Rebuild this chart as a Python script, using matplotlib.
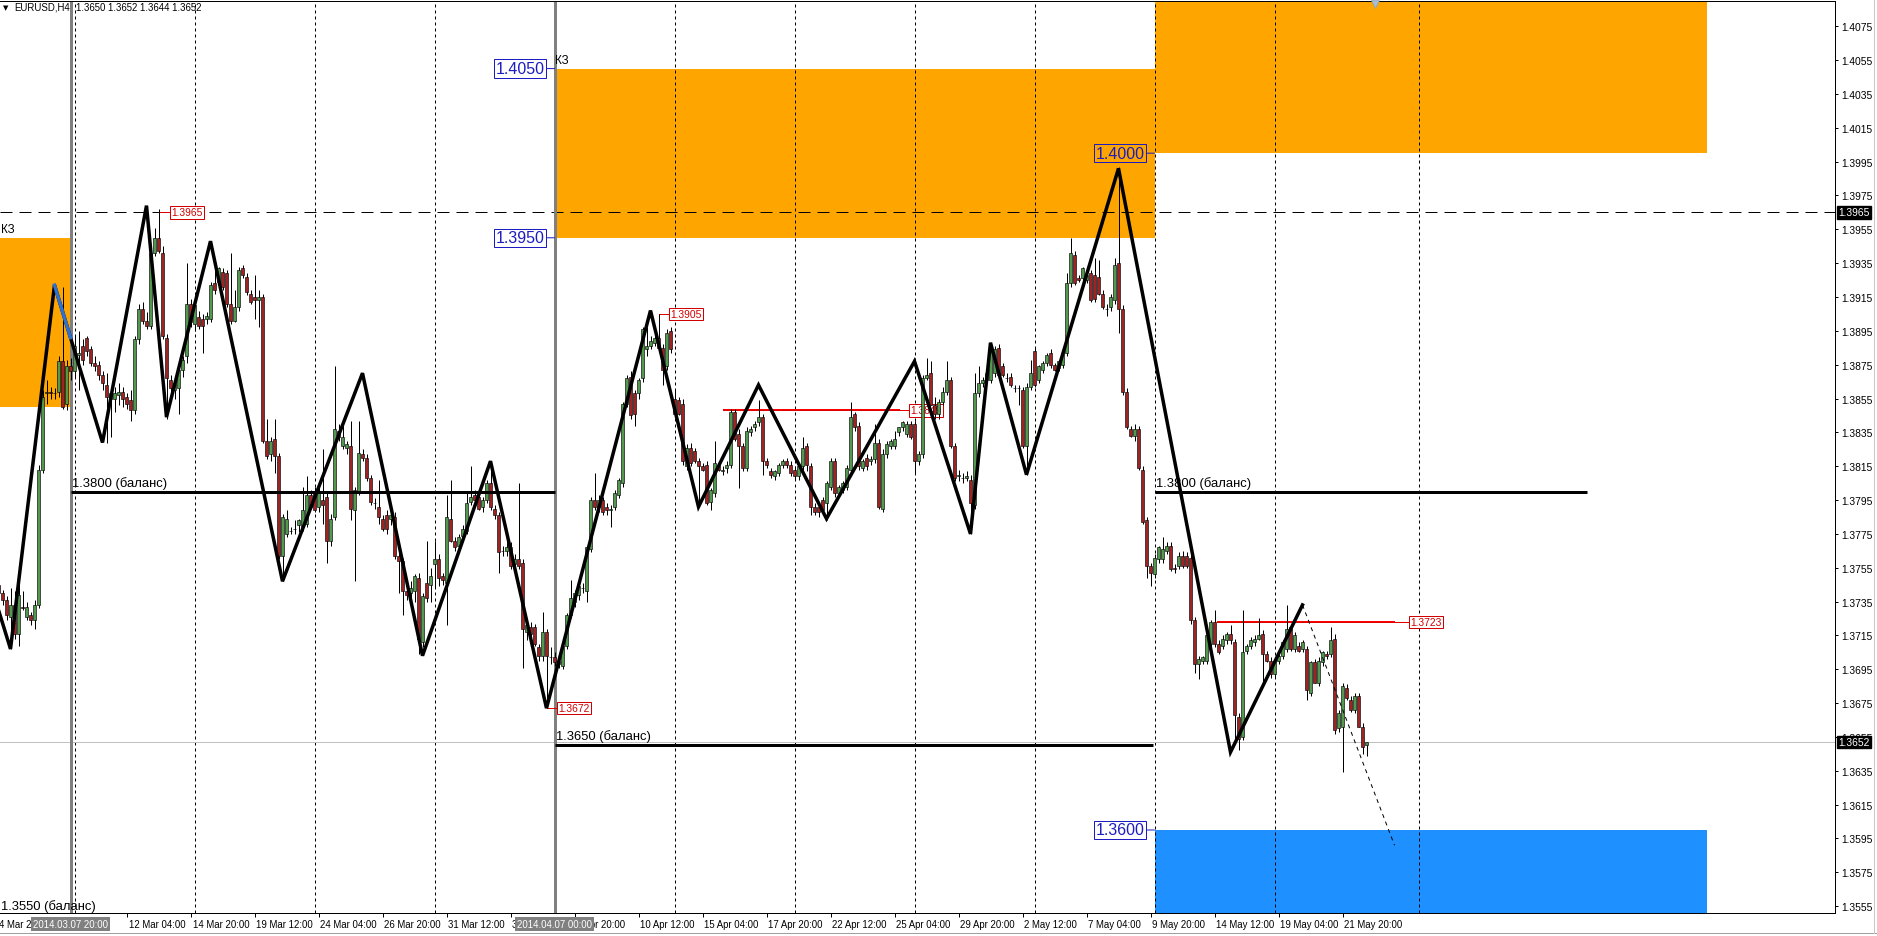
import numpy as np
import matplotlib
matplotlib.use("Agg")
import matplotlib.pyplot as plt
from matplotlib import transforms
from matplotlib.lines import Line2D
from matplotlib.patches import Rectangle

plt.rcParams["font.family"] = ["Liberation Sans", "DejaVu Sans"]
plt.rcParams["lines.scale_dashes"] = False

W, H, DPI = 1877, 937, 100
PX = 72 / DPI  # one screen pixel in points

# EURUSD H4, quotes kept in points (3745 -> 1.3745)
# bar index 0 = Mon 17 Mar 2014 00:00, first visible bar = 4 Mar 20:00
BASE = 1.0
FIRST_BAR = -49

opens = [
    3745, 3740, 3736, 3726, 3733, 3716, 3732, 3726, 3727, 3724, 3733, 3813, 3858, 3859, 3858, 3859, 3877, 3852, 3874, 3871,
    3881, 3886, 3891, 3884, 3876, 3875, 3869, 3863, 3855, 3855, 3857, 3859, 3856, 3854, 3848, 3890, 3908, 3901, 3898, 3941,
    3950, 3941, 3891, 3866, 3860, 3861, 3872, 3880, 3911, 3899, 3903, 3902, 3902, 3902, 3923, 3924, 3930, 3929, 3911, 3901,
    3909, 3932, 3927, 3917, 3915, 3913, 3915, 3830, 3822, 3831, 3821, 3762, 3775, 3777, 3778, 3780, 3779, 3781, 3798, 3799,
    3791, 3795, 3797, 3771, 3785, 3836, 3827, 3826, 3827, 3789, 3800, 3822, 3820, 3808, 3793, 3791, 3784, 3786, 3784, 3785,
    3762, 3759, 3741, 3740, 3741, 3749, 3711, 3746, 3745, 3757, 3760, 3750, 3746, 3784, 3771, 3768, 3774, 3777, 3794, 3798,
    3797, 3791, 3795, 3805, 3790, 3786, 3765, 3765, 3767, 3757, 3760, 3758, 3717, 3720, 3720, 3708, 3703, 3717, 3702, 3702,
    3700, 3697, 3709, 3727, 3735, 3739, 3743, 3741, 3766, 3795, 3791, 3795, 3791, 3789, 3791, 3798, 3805, 3852, 3868, 3858,
    3858, 3867, 3884, 3886, 3888, 3891, 3885, 3874, 3895, 3855, 3854, 3852, 3815, 3826, 3824, 3818, 3815, 3816, 3794, 3799,
    3816, 3812, 3814, 3816, 3847, 3834, 3827, 3814, 3835, 3838, 3841, 3844, 3818, 3812, 3809, 3811, 3816, 3818, 3816, 3813,
    3809, 3815, 3827, 3815, 3791, 3791, 3795, 3793, 3803, 3818, 3799, 3801, 3803, 3813, 3846, 3839, 3814, 3820, 3818, 3819,
    3829, 3790, 3822, 3827, 3827, 3835, 3838, 3834, 3840, 3840, 3818, 3822, 3867, 3870, 3851, 3846, 3853, 3859, 3866, 3827,
    3809, 3808, 3808, 3807, 3792, 3858, 3864, 3866, 3866, 3870, 3885, 3874, 3867, 3868, 3861, 3861, 3860, 3827, 3862, 3883,
    3866, 3872, 3876, 3882, 3875, 3873, 3875, 3882, 3923, 3940, 3926, 3926, 3925, 3929, 3928, 3927, 3917, 3908, 3909, 3913,
    3935, 3908, 3859, 3837, 3833, 3837, 3813, 3783, 3756, 3751, 3760, 3760, 3765, 3768, 3755, 3756, 3762, 3762, 3761, 3724,
    3698, 3700, 3700, 3710, 3723, 3710, 3709, 3712, 3716, 3711, 3667, 3655, 3706, 3709, 3711, 3713, 3716, 3704, 3700, 3692,
    3700, 3703, 3707, 3720, 3707, 3709, 3707, 3707, 3681, 3699, 3687, 3699, 3704, 3704, 3713, 3660, 3661, 3684, 3677, 3671,
    3679, 3661, 3650,
]
highs = [
    3748, 3742, 3738, 3743, 3741, 3747, 3741, 3735, 3729, 3736, 3816, 3860, 3866, 3862, 3861, 3880, 3921, 3878, 3879, 3892,
    3895, 3890, 3892, 3886, 3880, 3877, 3871, 3870, 3860, 3862, 3864, 3862, 3858, 3860, 3892, 3911, 3912, 3906, 3943, 3956,
    3967, 3945, 3893, 3869, 3866, 3874, 3880, 3935, 3914, 3913, 3907, 3905, 3906, 3924, 3934, 3933, 3932, 3931, 3941, 3919,
    3933, 3934, 3929, 3919, 3928, 3919, 3917, 3843, 3832, 3843, 3823, 3787, 3789, 3779, 3783, 3784, 3803, 3809, 3801, 3803,
    3803, 3825, 3799, 3787, 3874, 3840, 3840, 3830, 3842, 3803, 3842, 3825, 3822, 3810, 3796, 3807, 3786, 3789, 3790, 3788,
    3764, 3761, 3744, 3747, 3751, 3752, 3740, 3771, 3755, 3771, 3763, 3752, 3798, 3807, 3773, 3775, 3780, 3799, 3815, 3801,
    3799, 3797, 3807, 3818, 3792, 3788, 3768, 3771, 3770, 3763, 3805, 3760, 3724, 3723, 3722, 3710, 3729, 3719, 3708, 3705,
    3703, 3711, 3728, 3748, 3742, 3746, 3746, 3768, 3797, 3811, 3798, 3797, 3793, 3792, 3801, 3808, 3853, 3869, 3871, 3860,
    3867, 3897, 3897, 3892, 3893, 3905, 3887, 3896, 3897, 3860, 3856, 3855, 3828, 3829, 3826, 3820, 3817, 3818, 3802, 3830,
    3818, 3815, 3818, 3849, 3849, 3837, 3829, 3838, 3839, 3842, 3854, 3846, 3820, 3814, 3813, 3817, 3819, 3820, 3818, 3815,
    3816, 3832, 3829, 3817, 3793, 3793, 3797, 3806, 3820, 3820, 3804, 3806, 3816, 3853, 3847, 3841, 3819, 3822, 3821, 3840,
    3831, 3825, 3830, 3831, 3836, 3838, 3842, 3842, 3842, 3842, 3824, 3869, 3879, 3877, 3856, 3855, 3862, 3877, 3868, 3829,
    3813, 3811, 3812, 3810, 3870, 3874, 3868, 3875, 3887, 3886, 3887, 3876, 3870, 3870, 3863, 3863, 3862, 3864, 3878, 3885,
    3875, 3877, 3882, 3884, 3876, 3878, 3884, 3929, 3950, 3942, 3928, 3933, 3930, 3931, 3938, 3937, 3919, 3911, 3917, 3938,
    3992, 3910, 3861, 3839, 3840, 3839, 3815, 3785, 3758, 3763, 3768, 3773, 3770, 3770, 3757, 3764, 3765, 3764, 3763, 3726,
    3703, 3703, 3716, 3724, 3730, 3712, 3715, 3717, 3721, 3713, 3669, 3730, 3710, 3714, 3715, 3725, 3718, 3706, 3702, 3702,
    3704, 3712, 3733, 3722, 3717, 3711, 3712, 3709, 3700, 3701, 3702, 3706, 3706, 3720, 3716, 3671, 3687, 3686, 3679, 3681,
    3681, 3663, 3652,
]
lows = [
    3738, 3733, 3724, 3707, 3713, 3709, 3730, 3724, 3721, 3719, 3731, 3811, 3852, 3855, 3855, 3856, 3849, 3848, 3866, 3868,
    3860, 3875, 3880, 3874, 3871, 3866, 3860, 3829, 3832, 3847, 3851, 3850, 3849, 3842, 3846, 3887, 3899, 3896, 3896, 3939,
    3941, 3890, 3843, 3856, 3855, 3846, 3868, 3876, 3897, 3895, 3896, 3882, 3899, 3900, 3917, 3921, 3919, 3909, 3899, 3900,
    3907, 3926, 3916, 3911, 3902, 3897, 3829, 3819, 3818, 3811, 3760, 3747, 3773, 3775, 3775, 3776, 3777, 3779, 3790, 3788,
    3788, 3781, 3758, 3768, 3783, 3830, 3825, 3822, 3783, 3747, 3798, 3818, 3806, 3792, 3790, 3781, 3777, 3775, 3780, 3760,
    3740, 3727, 3736, 3736, 3735, 3704, 3708, 3735, 3735, 3743, 3744, 3745, 3721, 3770, 3765, 3764, 3772, 3775, 3792, 3793,
    3789, 3788, 3793, 3789, 3784, 3752, 3762, 3762, 3754, 3752, 3754, 3696, 3712, 3714, 3709, 3700, 3700, 3672, 3698, 3697,
    3696, 3695, 3707, 3725, 3732, 3736, 3740, 3735, 3764, 3789, 3788, 3786, 3786, 3779, 3789, 3796, 3803, 3850, 3843, 3839,
    3855, 3865, 3880, 3884, 3886, 3883, 3863, 3872, 3882, 3844, 3845, 3816, 3813, 3815, 3817, 3792, 3812, 3792, 3789, 3797,
    3812, 3810, 3811, 3814, 3830, 3802, 3812, 3812, 3833, 3836, 3839, 3810, 3814, 3808, 3807, 3809, 3814, 3814, 3809, 3807,
    3807, 3813, 3812, 3786, 3786, 3785, 3786, 3783, 3801, 3797, 3797, 3799, 3801, 3811, 3836, 3813, 3812, 3813, 3816, 3817,
    3790, 3788, 3820, 3825, 3825, 3833, 3836, 3832, 3831, 3811, 3816, 3820, 3866, 3851, 3843, 3843, 3851, 3857, 3826, 3806,
    3806, 3805, 3806, 3775, 3790, 3856, 3862, 3864, 3864, 3868, 3868, 3868, 3865, 3862, 3859, 3851, 3826, 3810, 3860, 3862,
    3864, 3870, 3874, 3873, 3871, 3871, 3873, 3880, 3921, 3922, 3924, 3924, 3923, 3912, 3912, 3916, 3908, 3904, 3907, 3911,
    3894, 3857, 3837, 3832, 3830, 3813, 3781, 3749, 3744, 3749, 3758, 3758, 3763, 3753, 3752, 3754, 3755, 3755, 3722, 3693,
    3689, 3698, 3698, 3708, 3708, 3704, 3707, 3710, 3710, 3652, 3647, 3653, 3704, 3707, 3709, 3712, 3687, 3699, 3690, 3690,
    3698, 3701, 3705, 3706, 3705, 3705, 3705, 3677, 3679, 3687, 3685, 3697, 3701, 3702, 3657, 3658, 3634, 3677, 3670, 3669,
    3661, 3645, 3644,
]
closes = [
    3740, 3736, 3727, 3733, 3716, 3739, 3731, 3732, 3724, 3733, 3813, 3856, 3859, 3858, 3858, 3877, 3850, 3874, 3871, 3886,
    3882, 3878, 3883, 3876, 3874, 3869, 3864, 3856, 3858, 3858, 3859, 3855, 3852, 3848, 3890, 3908, 3901, 3898, 3941, 3950,
    3942, 3892, 3867, 3861, 3864, 3872, 3878, 3911, 3900, 3910, 3898, 3898, 3904, 3922, 3919, 3932, 3921, 3911, 3901, 3909,
    3931, 3928, 3918, 3912, 3913, 3915, 3830, 3821, 3830, 3821, 3762, 3785, 3784, 3777, 3778, 3783, 3789, 3798, 3791, 3789,
    3800, 3792, 3771, 3784, 3837, 3832, 3832, 3828, 3790, 3801, 3823, 3820, 3808, 3794, 3793, 3785, 3778, 3778, 3786, 3762,
    3759, 3741, 3739, 3743, 3750, 3713, 3738, 3737, 3750, 3760, 3749, 3748, 3785, 3771, 3767, 3773, 3778, 3793, 3797, 3795,
    3790, 3795, 3805, 3791, 3786, 3764, 3765, 3767, 3756, 3760, 3756, 3719, 3721, 3716, 3710, 3703, 3717, 3703, 3702, 3699,
    3698, 3709, 3727, 3737, 3740, 3744, 3743, 3767, 3795, 3791, 3795, 3788, 3789, 3790, 3799, 3807, 3852, 3867, 3845, 3846,
    3866, 3896, 3886, 3889, 3891, 3885, 3872, 3894, 3884, 3846, 3846, 3818, 3826, 3817, 3818, 3815, 3813, 3793, 3801, 3817,
    3813, 3813, 3816, 3847, 3831, 3827, 3814, 3836, 3837, 3840, 3844, 3818, 3816, 3810, 3812, 3816, 3818, 3816, 3811, 3809,
    3815, 3826, 3816, 3791, 3788, 3788, 3789, 3805, 3818, 3799, 3803, 3805, 3814, 3844, 3838, 3815, 3818, 3815, 3819, 3829,
    3791, 3822, 3828, 3830, 3831, 3838, 3841, 3840, 3832, 3818, 3822, 3867, 3869, 3851, 3846, 3853, 3859, 3866, 3827, 3808,
    3810, 3808, 3809, 3793, 3858, 3864, 3866, 3870, 3885, 3884, 3869, 3869, 3867, 3863, 3861, 3861, 3827, 3862, 3870, 3863,
    3874, 3876, 3881, 3875, 3872, 3877, 3882, 3923, 3941, 3923, 3925, 3932, 3928, 3913, 3914, 3917, 3909, 3908, 3915, 3934,
    3908, 3859, 3838, 3833, 3837, 3814, 3782, 3756, 3752, 3761, 3767, 3766, 3768, 3754, 3754, 3762, 3756, 3756, 3724, 3698,
    3701, 3702, 3715, 3723, 3710, 3705, 3713, 3716, 3712, 3668, 3654, 3705, 3709, 3712, 3713, 3715, 3704, 3700, 3692, 3700,
    3703, 3711, 3719, 3707, 3715, 3706, 3711, 3683, 3699, 3687, 3700, 3705, 3703, 3712, 3659, 3669, 3685, 3678, 3671, 3679,
    3661, 3649, 3652,
]

# hand drawn wave line (bar index, quote) and its projection
zz_bars = [-49, -46, -35, -23, -12, -7, 4, 22, 42, 57, 74, 88, 114, 126, 141, 158, 180, 194, 199, 208, 231, 259, 277]
zz_pips = [3730, 3707, 3922, 3829, 3969, 3844, 3948, 3747, 3870, 3703, 3818, 3672, 3907, 3791, 3863, 3784, 3877,
           3775, 3888, 3810, 3991, 3646, 3733]
proj_bars = [277, 300]
proj_pips = [3733, 3591]

# zones: (bar from, bar to, low, high, colour)
zones = [
    (-60, -31, 3850, 3950, "#FFA500"),
    (90, 240, 3950, 4050, "#FFA500"),
    (240, 378, 4000, 4120, "#FFA500"),
    (240, 378, 3480, 3600, "#1E90FF"),
]
zone_tags = [(-60, 3950, "КЗ"), (90, 4050, "КЗ")]
zone_prices = [(90, 4050), (90, 3950), (240, 4000), (240, 3600)]

# balance lines (bar from, bar to, quote)
balance = [(-60, -31, 3550), (-31, 90, 3800), (90, 239.5, 3650), (240, 348, 3800)]

# red price marks: (bar of the line start, bar of the label, quote, text)
marks = [
    (-8.6, -5.9, 3965, "1.3965"),
    (116.2, 119.0, 3905, "1.3905"),
    (88.2, 91.0, 3672, "1.3672"),
    (132.2, 178.9, 3848, "1.3849"),
    (255.5, 303.9, 3723, "1.3723"),
]
long_marks = [(132.2, 176.4, 3848), (255.5, 300.0, 3723)]

week_starts = [-30, 0, 30, 60, 90, 120, 150, 180, 210, 240, 270, 306]
vlines_grey = [(-31, "2014.03.07 20:00"), (90, "2014.04.07 00:00")]
level_dash = 3965
last_price = 3652
shift_bar = 295  # chart shift marker at the top edge

xtick_bars = [-17, -1, 15, 31, 47, 63, 79, 95, 111, 127, 143, 159, 175, 191, 207, 223, 239, 255, 271, 287]
xtick_text = ["12 Mar 04:00", "14 Mar 20:00", "19 Mar 12:00", "24 Mar 04:00", "26 Mar 20:00",
              "31 Mar 12:00", "3 Apr 04:00", "7 Apr 20:00", "10 Apr 12:00", "15 Apr 04:00", "17 Apr 20:00",
              "22 Apr 12:00", "25 Apr 04:00", "29 Apr 20:00", "2 May 12:00", "7 May 04:00", "9 May 20:00",
              "14 May 12:00", "19 May 04:00", "21 May 20:00"]
first_label = "4 Mar 2014"
ytick_pips = list(range(3555, 4076, 20))


def q(v):
    return BASE + np.asarray(v, dtype=float) / 1e4


fig = plt.figure(figsize=(W / DPI, H / DPI), dpi=DPI, facecolor="white")
ax = fig.add_axes([0, 23 / H, 1835 / W, 912 / H])
ax.set_xlim(-48.625, 410.125)
ax.set_ylim(q(3550.94), q(4089.94))
ax.set_facecolor("white")
ax.spines["left"].set_visible(False)
for s in ["right", "bottom", "top"]:
    ax.spines[s].set_linewidth(PX)
    ax.spines[s].set_color("black")

# zones
for b0, b1, lo, hi, col in zones:
    ax.add_patch(Rectangle((b0, q(lo)), b1 - b0, q(hi) - q(lo), facecolor=col, edgecolor="none", zorder=1))

# weekly grid
for b in week_starts:
    ax.axvline(b, color="black", lw=PX, dashes=(3 * PX, 3 * PX), zorder=2)
ax.axhline(q(level_dash), color="black", lw=PX, dashes=(12 * PX, 7 * PX), zorder=2)
ax.axhline(q(last_price), color="#C0C0C0", lw=PX, zorder=2)
for b, _ in vlines_grey:
    ax.axvline(b, color="#808080", lw=3 * PX, zorder=2.5)

# red price marks
for b0, b1, lo in long_marks:
    ax.plot([b0, b1], [q(lo), q(lo)], color="#FF0000", lw=2 * PX, zorder=3, solid_capstyle="butt")
for b0, b1, v, txt in marks:
    ax.plot([b0, b1], [q(v), q(v)], color="#E00000", lw=PX, zorder=3)
    ax.text(b1, q(v), txt, ha="left", va="center", fontsize=7.4, color="#D00000", zorder=3.5,
            bbox=dict(boxstyle="square,pad=0.12", fc="white", ec="#D00000", lw=PX))

# candles
idx = np.arange(FIRST_BAR, FIRST_BAR + len(opens))
o, h, l, c = q(opens), q(highs), q(lows), q(closes)
up = c >= o
ax.vlines(idx, np.minimum(l, np.minimum(o, c)), np.maximum(h, np.maximum(o, c)), color="black", lw=PX, zorder=4)
ax.bar(idx[up], c[up] - o[up], bottom=o[up], width=0.75, color="#52984F", edgecolor="black", lw=0.6 * PX, zorder=5)
ax.bar(idx[~up], o[~up] - c[~up], bottom=c[~up], width=0.75, color="#9E2424", edgecolor="black", lw=0.6 * PX, zorder=5)

# balance lines and their captions
for b0, b1, v in balance:
    ax.plot([b0, b1], [q(v), q(v)], color="black", lw=3 * PX, zorder=6, solid_capstyle="butt")
    ax.annotate(f"{q(v):.4f} (баланс)", xy=(max(b0, -48.6), q(v)), xytext=(1, 3), textcoords="offset pixels",
                fontsize=9.4, ha="left", va="bottom", zorder=8, annotation_clip=False)

# zone tags and boundary prices
for b, v, txt in zone_tags:
    ax.annotate(txt, xy=(max(b, -48.6), q(v)), xytext=(1, 3), textcoords="offset pixels",
                fontsize=8.4, ha="left", va="bottom", zorder=8)
for b, v in zone_prices:
    ax.annotate(f"{q(v):.4f}", xy=(b, q(v)), xytext=(-10, 0), textcoords="offset pixels",
                fontsize=11.5, color="#1C1CC0", ha="right", va="center", zorder=8,
                bbox=dict(boxstyle="square,pad=0.1", fc="none", ec="#1C1CC0", lw=PX),
                arrowprops=dict(arrowstyle="-", color="#1C1CC0", lw=PX, shrinkA=0, shrinkB=0))

# wave line
ax.plot(zz_bars, q(zz_pips), color="black", lw=3.5 * PX, zorder=7, solid_joinstyle="miter")
blue_end = np.interp(vlines_grey[0][0], zz_bars, zz_pips)
ax.plot([zz_bars[2], vlines_grey[0][0]], q([zz_pips[2], blue_end]), color="#2F6FD0", lw=3.5 * PX, zorder=7.1)
ax.plot(proj_bars, q(proj_pips), color="black", lw=PX, dashes=(4 * PX, 4 * PX), zorder=7)

# chart shift marker
xt = transforms.blended_transform_factory(ax.transData, ax.transAxes)
ax.plot([shift_bar], [1 - 3 / 912], marker="v", ms=6, color="#A9BCD0", mec="#8FA3B8", mew=0.5,
        transform=xt, zorder=9, clip_on=False)

# price axis on the right
ax.yaxis.tick_right()
ax.set_yticks(q(ytick_pips))
ax.set_yticklabels([f"{q(v):.4f}" for v in ytick_pips])
ax.tick_params(axis="y", direction="out", length=3 * PX, width=PX, pad=3 * PX, labelsize=7.4)
yb = transforms.blended_transform_factory(ax.transAxes, ax.transData)
for v in (level_dash, last_price):
    ax.text(1 + 3 / 1835, q(v), f"{q(v):.4f}", transform=yb, ha="left", va="center", fontsize=7.4,
            color="white", zorder=10, clip_on=False,
            bbox=dict(boxstyle="square,pad=0.12", fc="black", ec="black"))

# time axis
ax.set_xticks(xtick_bars)
ax.set_xticklabels(xtick_text, ha="left")
ax.tick_params(axis="x", direction="out", length=4 * PX, width=PX, pad=2 * PX, labelsize=6.9)
shift = transforms.ScaledTranslation(2 / DPI, 0, fig.dpi_scale_trans)
for lab in ax.get_xticklabels():
    lab.set_transform(lab.get_transform() + shift)
ax.text(-48.9, -11 / 912, first_label, transform=xt, ha="left", va="center", fontsize=6.9, clip_on=False)
for b, txt in vlines_grey:
    ax.text(b, -11 / 912, txt, transform=xt, ha="center", va="center", fontsize=6.9, color="white",
            zorder=10, clip_on=False, bbox=dict(boxstyle="square,pad=0.2", fc="#808080", ec="none"))

# chart header
fig.text(3 / W, 1 - 8 / H, "▼", fontsize=5, va="center", ha="left", family="DejaVu Sans")
fig.text(14 / W, 1 - 8 / H, "EURUSD,H4", fontsize=6.9, va="center", ha="left")
fig.text(76 / W, 1 - 8 / H, "1.3650 1.3652 1.3644 1.3652", fontsize=6.9, va="center", ha="left")

# window frame
fig.add_artist(Line2D([0, 1], [1 - 934 / H] * 2, color="#A0A0A0", lw=PX))
fig.add_artist(Line2D([1874 / W] * 2, [1 - 934 / H, 1], color="#C8C8C8", lw=PX))

fig.savefig("out.png", dpi=DPI, facecolor="white")
